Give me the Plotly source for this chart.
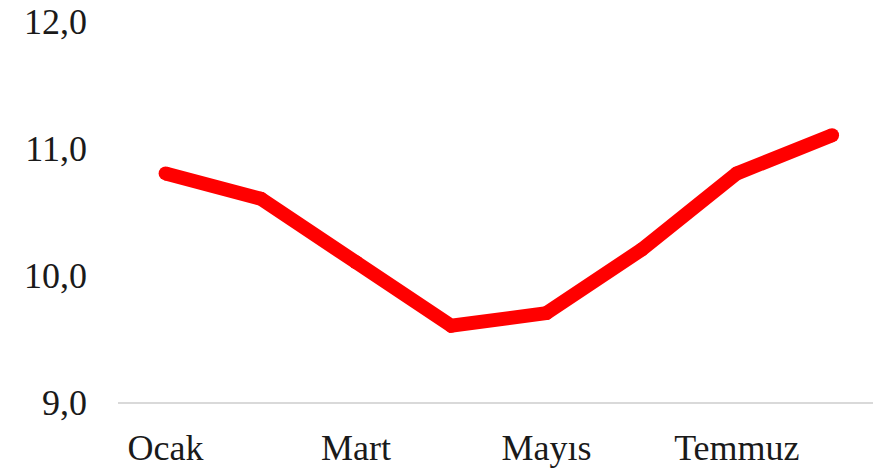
import plotly.graph_objects as go

months = ["Ocak", "Şubat", "Mart", "Nisan", "Mayıs", "Haziran", "Temmuz", "Ağustos"]
values = [10.8, 10.6, 10.1, 9.6, 9.7, 10.2, 10.8, 11.1]
shown_ticks = ["Ocak", "Mart", "Mayıs", "Temmuz"]
y_ticks = [9, 10, 11, 12]

fig = go.Figure()
fig.add_trace(go.Scatter(
    x=months, y=values, mode="lines+markers",
    line=dict(color="#FF0000", width=14),
    marker=dict(color="#FF0000", size=14),
    hoverinfo="skip",
))

fig.update_layout(
    width=873, height=473,
    margin=dict(l=118, r=0, t=21, b=71),
    paper_bgcolor="white", plot_bgcolor="white",
    showlegend=False,
    separators=", ",
    font=dict(family="Liberation Serif", size=36, color="#1a1a1a"),
    xaxis=dict(
        type="category",
        range=[-0.5, 7.43],
        tickmode="array", tickvals=shown_ticks, ticktext=shown_ticks,
        showgrid=False, zeroline=False,
        showline=True, linecolor="#d9d9d9", linewidth=1.5,
        ticks="", ticklabelstandoff=13,
    ),
    yaxis=dict(
        range=[9, 12],
        tickmode="array", tickvals=y_ticks, tickformat=".1f",
        showgrid=False, zeroline=False, showline=False,
        ticks="", ticklabelstandoff=30,
    ),
)

fig.write_html(
    "out.html",
    config={"displayModeBar": False, "staticPlot": True},
    post_script="document.body.style.margin='0';document.body.style.overflow='hidden';",
)
